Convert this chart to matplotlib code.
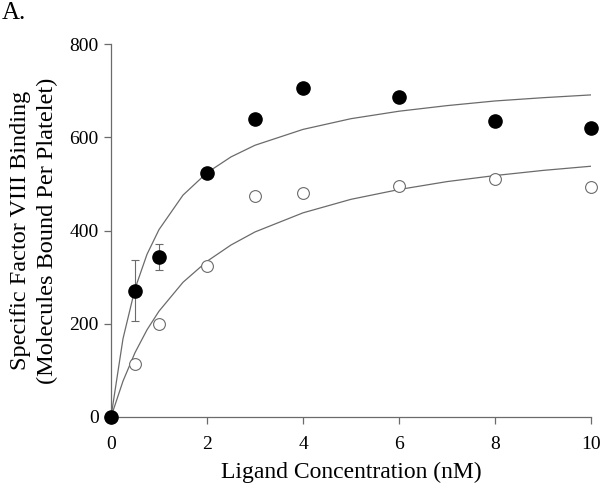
import matplotlib
matplotlib.use("Agg")
import matplotlib.pyplot as plt

plt.rcParams["font.family"] = ["Liberation Serif", "DejaVu Serif"]

# datos
conc = [0, 0.5, 1, 2, 3, 4, 6, 8, 10]
total = [0, 271, 344, 524, 640, 705, 686, 636, 621]
total_err = [0, 66, 28, 0, 0, 0, 0, 0, 0]
abierto = [0, 114, 199, 325, 475, 480, 495, 510, 493]

# curvas de ajuste
curva_x = [0, 0.25, 0.5, 0.75, 1, 1.5, 2, 2.5, 3, 4, 5, 6, 7, 8, 9, 10]
curva_total = [0, 168, 275, 349, 402, 476, 524, 558, 583, 617, 640, 656, 668, 678, 685, 691]
curva_abierto = [0, 77, 138, 187, 227, 289, 334, 369, 397, 438, 467, 488, 505, 518, 529, 538]

gris = "#6b6b6b"

fig = plt.figure(figsize=(6, 4.9), dpi=100)
ax = fig.add_axes([0.185, 0.149, 0.80, 0.761])

ax.plot(curva_x, curva_total, color=gris, lw=0.9, zorder=2)
ax.plot(curva_x, curva_abierto, color=gris, lw=0.9, zorder=2)

ax.errorbar(conc, total, yerr=total_err, fmt="none", ecolor=gris, elinewidth=0.8,
            capsize=3, capthick=0.8, zorder=3)
ax.plot(conc, abierto, "o", ms=8.5, mfc="white", mec=gris, mew=0.8, zorder=4, clip_on=False)
ax.plot(conc, total, "o", ms=9.5, mfc="black", mec="black", zorder=5, clip_on=False)

ax.set_xlim(0, 10)
ax.set_ylim(0, 800)
ax.set_xticks([0, 2, 4, 6, 8, 10])
ax.set_yticks([0, 200, 400, 600, 800])

for s in ["top", "right"]:
    ax.spines[s].set_visible(False)
for s in ["left", "bottom"]:
    ax.spines[s].set_color(gris)
    ax.spines[s].set_linewidth(0.9)

ax.tick_params(colors=gris, labelcolor="black", labelsize=14, length=5, width=0.9, direction="out")
ax.tick_params(axis="x", pad=9)
ax.tick_params(axis="y", pad=4)

ax.set_xlabel("Ligand Concentration (nM)", fontsize=17, labelpad=6)
ax.set_ylabel("Specific Factor VIII Binding\n(Molecules Bound Per Platelet)", fontsize=17.5,
              labelpad=8, linespacing=1.35)

fig.text(0.003, 0.995, "A.", fontsize=18, va="top", ha="left")

fig.savefig("out.png", dpi=100)
